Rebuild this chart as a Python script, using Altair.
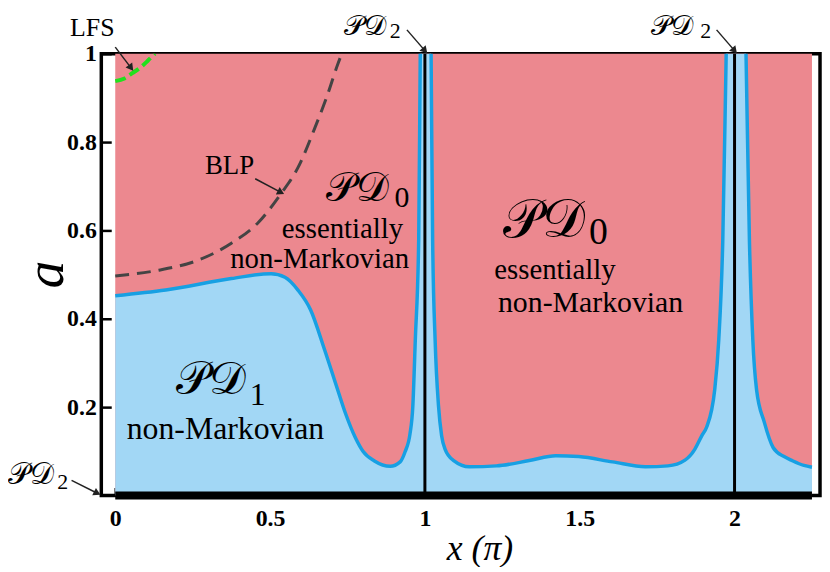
import math
import altair as alt
import pandas as pd

# ---------------- data ----------------
# boundary between PD1 (below) and PD0 (above); values > 1 mark the divergences at x = 1, 2
bx = [0.0, 0.163, 0.375, 0.503, 0.548, 0.590, 0.631, 0.676, 0.718, 0.744, 0.776, 0.800,
      0.837, 0.888, 0.920, 0.936, 0.952, 0.961, 0.969, 0.980, 0.985, 1.0, 1.020, 1.025,
      1.033, 1.044, 1.054, 1.065, 1.093, 1.144, 1.231, 1.337, 1.423, 1.497, 1.606, 1.712,
      1.785, 1.840, 1.872, 1.894, 1.910, 1.936, 1.949, 1.962, 1.973, 2.0, 2.037, 2.048,
      2.059, 2.071, 2.096, 2.125, 2.160, 2.183, 2.224, 2.250]
ba = [0.452, 0.465, 0.491, 0.502, 0.494, 0.465, 0.420, 0.330, 0.240, 0.185, 0.130, 0.100,
      0.078, 0.066, 0.076, 0.099, 0.140, 0.202, 0.352, 0.578, 1.0, 2.0, 1.0, 0.578,
      0.352, 0.202, 0.135, 0.105, 0.079, 0.065, 0.067, 0.079, 0.090, 0.088, 0.076, 0.065,
      0.067, 0.080, 0.105, 0.135, 0.155, 0.240, 0.352, 0.578, 1.0, 2.0, 1.0, 0.578,
      0.352, 0.240, 0.166, 0.108, 0.088, 0.080, 0.068, 0.064]

# BLP boundary (dashed grey)
blp_x = [0.0, 0.141, 0.269, 0.375, 0.462, 0.535, 0.590, 0.644, 0.686, 0.718, 0.726]
blp_a = [0.497, 0.510, 0.533, 0.571, 0.618, 0.683, 0.742, 0.831, 0.908, 0.975, 0.99]

# LFS boundary (dashed green)
lfs_x = [0.0, 0.030, 0.055, 0.080, 0.105, 0.128]
lfs_a = [0.938, 0.944, 0.956, 0.968, 0.984, 1.0]

# PD2 lines
pd2_x = [1.0, 2.0]
x_lo, x_hi = 0.0, 2.25

# axis ticks
x_ticks = [0, 0.5, 1, 1.5, 2]
y_ticks = [0.2, 0.4, 0.6, 0.8, 1.0]

# plain text labels
lab_text = ["BLP", "LFS", "essentially", "non-Markovian", "essentially", "non-Markovian", "non-Markovian"]
lab_x = [0.369, -0.074, 0.734, 0.660, 1.420, 1.535, 0.356]
lab_a = [0.746, 1.057, 0.604, 0.535, 0.510, 0.436, 0.151]
lab_size = [27, 26, 29, 29, 29, 30, 32]

# calligraphic PD labels and their subscripts
pd_x = [0.782, 1.385, 0.308, 0.808, 1.798, -0.272]
pd_a = [0.694, 0.622, 0.261, 1.06, 1.06, 0.047]
pd_size = [41, 54, 46, 28, 28, 30]
sub_text = ["0", "0", "1", "2", "2", "2"]
sub_x = [0.926, 1.560, 0.460, 0.904, 1.907, -0.170]
sub_a = [0.674, 0.593, 0.227, 1.052, 1.052, 0.031]
sub_size = [30, 38, 32, 22, 22, 22]

# arrows (start -> end)
arr_x = [0.0, 0.452, 0.942, 1.942, -0.141]
arr_a = [1.015, 0.717, 1.054, 1.054, 0.034]
arr_x2 = [0.051, 0.535, 1.0, 2.0, -0.058]
arr_a2 = [0.968, 0.686, 1.007, 1.007, 0.005]

# ---------------- frames ----------------
PXX, PXY = 312.0, 445.0  # px per data unit (for arrow-head orientation only)

bound = pd.DataFrame({"x": bx, "a": ba})
blp = pd.DataFrame({"x": blp_x, "a": blp_a})
lfs = pd.DataFrame({"x": lfs_x, "a": lfs_a})
vlines = pd.DataFrame({"x": pd2_x, "a0": [0.0] * len(pd2_x), "a1": [1.0] * len(pd2_x)})
region = pd.DataFrame({"x": [x_lo], "x2": [x_hi], "a": [0.0], "a2": [1.0]})
labels = pd.DataFrame({"t": lab_text, "x": lab_x, "a": lab_a, "s": lab_size})
pdl = pd.DataFrame({"t": ["𝒫𝒟"] * len(pd_x), "x": pd_x, "a": pd_a, "s": pd_size})
subs = pd.DataFrame({"t": sub_text, "x": sub_x, "a": sub_a, "s": sub_size})
arr = pd.DataFrame({"x": arr_x, "a": arr_a, "x2": arr_x2, "a2": arr_a2})
arr["ang"] = [
    (math.degrees(math.atan2((x2 - x1) * PXX, (a2 - a1) * PXY)) + 360) % 360
    for x1, a1, x2, a2 in zip(arr_x, arr_a, arr_x2, arr_a2)
]

FONT = "'Liberation Serif', 'Times New Roman', Times, serif"
xs = alt.Scale(domain=[-0.045, 2.276], nice=False, zero=False)
ys = alt.Scale(domain=[0, 1], nice=False)

X = alt.X("x:Q", scale=xs, axis=alt.Axis(
    values=x_ticks, format="~g", title="x  (π)", offset=-8, tickSize=8,
    labelPadding=11, titleX=381, titleY=62, titleBaseline="middle", titleAlign="center",
    titleFontSize=36, titleFontStyle="italic", titleFontWeight="normal", titleFont=FONT))
Y = alt.Y("a:Q", scale=ys, axis=alt.Axis(
    values=y_ticks, format="~g", title="a", offset=-10, tickSize=10, labelPadding=5,
    titleX=-66, titleY=222, titleAngle=270, titleBaseline="middle", titleAlign="center",
    titleFontSize=56, titleFontStyle="italic", titleFontWeight="normal", titleFont=FONT))

red = alt.Chart(region).mark_rect(color="#EC888F").encode(
    x=X, x2="x2:Q", y=Y, y2="a2:Q")
area = alt.Chart(bound).mark_area(color="#A2D7F5", clip=True, interpolate="monotone").encode(
    x="x:Q", y="a:Q")
line = alt.Chart(bound).mark_line(color="#17A0E3", strokeWidth=3.5, clip=True,
                                  interpolate="monotone").encode(x="x:Q", y="a:Q")
blpl = alt.Chart(blp).mark_line(color="#444444", strokeWidth=3, strokeDash=[14, 8],
                                interpolate="monotone").encode(x="x:Q", y="a:Q")
lfsl = alt.Chart(lfs).mark_line(color="#22E01E", strokeWidth=4, strokeDash=[11, 5],
                                interpolate="monotone", clip=True).encode(x="x:Q", y="a:Q")
vl = alt.Chart(vlines).mark_rule(color="black", strokeWidth=3).encode(
    x="x:Q", y="a0:Q", y2="a1:Q")
bottom = alt.Chart(region).mark_rule(color="black", strokeWidth=8).encode(
    x="x:Q", x2="x2:Q", y="a:Q")

txt = alt.Chart(labels).mark_text(font=FONT, color="black", align="center",
                                  baseline="middle").encode(
    x="x:Q", y="a:Q", text="t:N", size=alt.Size("s:Q", scale=None, legend=None))
pdt = alt.Chart(pdl).mark_text(font=FONT, color="black", align="center",
                               baseline="middle", fontStyle="normal").encode(
    x="x:Q", y="a:Q", text="t:N", size=alt.Size("s:Q", scale=None, legend=None))
subt = alt.Chart(subs).mark_text(font=FONT, color="black", align="center",
                                 baseline="middle").encode(
    x="x:Q", y="a:Q", text="t:N", size=alt.Size("s:Q", scale=None, legend=None))
arrl = alt.Chart(arr).mark_rule(color="#222222", strokeWidth=1.5).encode(
    x="x:Q", y="a:Q", x2="x2:Q", y2="a2:Q")
arrh = alt.Chart(arr).mark_point(shape="triangle-up", filled=True, color="#222222",
                                 size=70, opacity=1).encode(
    x="x2:Q", y="a2:Q", angle=alt.Angle("ang:Q", scale=None))

chart = alt.layer(red, area, line, blpl, lfsl, vl, bottom, txt, pdt, subt, arrl, arrh).properties(
    width=724, height=445,
    autosize=alt.AutoSizeParams(type="none"),
    padding={"left": 94, "top": 44, "right": 2, "bottom": 70},
).configure_view(stroke="black", strokeWidth=3.5).configure_axis(
    domain=False, grid=False, tickColor="black", tickWidth=2.5,
    labelFont=FONT, labelFontWeight="bold", labelFontSize=24, labelColor="black",
    titleColor="black")

chart.save("out.html", embed_options={"renderer": "svg", "actions": False})
